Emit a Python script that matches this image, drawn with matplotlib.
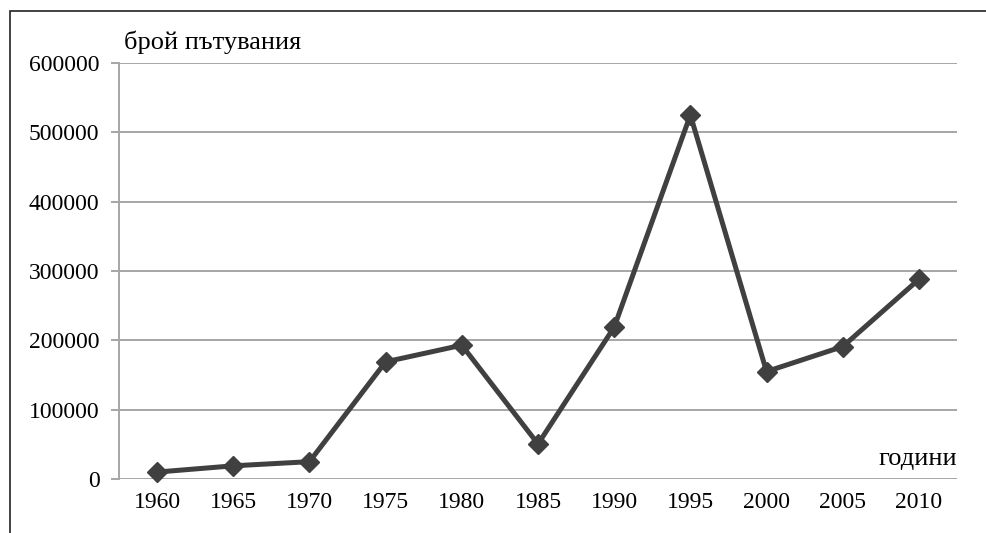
import matplotlib.pyplot as plt
import matplotlib.patches as mpatches

plt.rcParams.update({
    "font.family": ["Liberation Serif", "DejaVu Serif"],
    "font.size": 17,
})

years = ["1960", "1965", "1970", "1975", "1980", "1985",
         "1990", "1995", "2000", "2005", "2010"]
trips = [10000, 19000, 25000, 169000, 193000, 50500,
         219000, 525000, 155000, 191000, 288000]
yticks = [0, 100000, 200000, 300000, 400000, 500000, 600000]

fig = plt.figure(figsize=(9.87, 5.33), dpi=100)
ax = fig.add_axes([119 / 987, 54 / 533, 838 / 987, 416 / 533])

grid_col = "#a6a6a6"
ax.set_yticks(yticks)
ax.set_yticklabels([str(v) for v in yticks])
ax.set_ylim(0, 600000)
ax.set_xlim(-0.5, len(years) - 0.5)
ax.set_xticks(range(len(years)))
ax.set_xticklabels(years)
ax.yaxis.grid(True, color=grid_col, linewidth=1.4)
ax.set_axisbelow(True)

for s in ["top", "right", "bottom"]:
    ax.spines[s].set_visible(False)
ax.spines["left"].set_color(grid_col)
ax.spines["left"].set_linewidth(1.4)
ax.tick_params(axis="y", length=6, width=1.4, color=grid_col, pad=8)
ax.tick_params(axis="x", length=0, pad=9)

ax.plot(range(len(years)), trips, color="#404040", linewidth=3.6,
        marker="D", markersize=10.5, clip_on=False, zorder=3)

fig.text(124 / 987, 1 - 42 / 533, "брой пътувания", ha="left", va="center", fontsize=19)
fig.text(957 / 987, 1 - 459 / 533, "години", ha="right", va="center", fontsize=19)

# frame around the picture, only top and left edges visible
fig.add_artist(mpatches.Rectangle((10 / 987, -0.2), 1.2, 1.2 - 11 / 533,
                                  transform=fig.transFigure, fill=False,
                                  edgecolor="#222222", linewidth=1.2))

fig.savefig("out.png", dpi=100)
